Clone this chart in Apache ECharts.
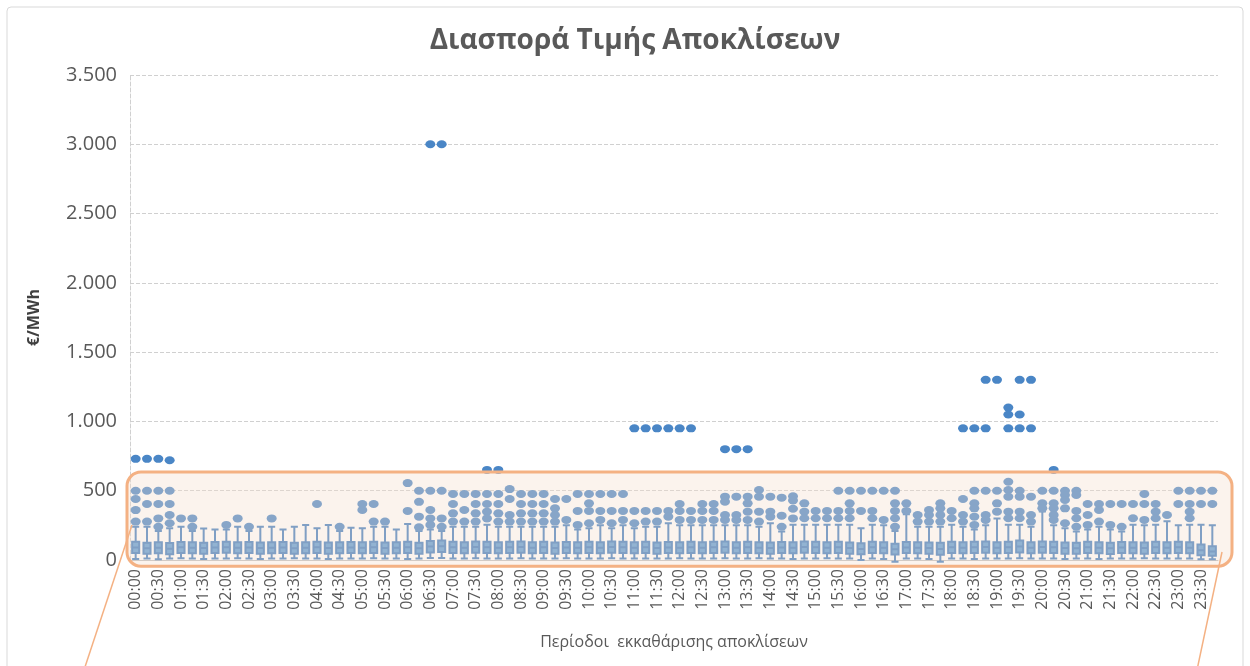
<!DOCTYPE html>
<html>
<head>
<meta charset="utf-8">
<script src="https://cdn.jsdelivr.net/npm/echarts@6/dist/echarts.min.js"></script>
<style>
  html, body { margin: 0; padding: 0; background: #fff; }
  #chart { width: 1250px; height: 666px; }
</style>
</head>
<body>
<div id="chart"></div>
<script>
// 15-minute settlement periods
const periods = [
  "00:00","00:15","00:30","00:45","01:00","01:15","01:30","01:45","02:00","02:15","02:30","02:45",
  "03:00","03:15","03:30","03:45","04:00","04:15","04:30","04:45","05:00","05:15","05:30","05:45",
  "06:00","06:15","06:30","06:45","07:00","07:15","07:30","07:45","08:00","08:15","08:30","08:45",
  "09:00","09:15","09:30","09:45","10:00","10:15","10:30","10:45","11:00","11:15","11:30","11:45",
  "12:00","12:15","12:30","12:45","13:00","13:15","13:30","13:45","14:00","14:15","14:30","14:45",
  "15:00","15:15","15:30","15:45","16:00","16:15","16:30","16:45","17:00","17:15","17:30","17:45",
  "18:00","18:15","18:30","18:45","19:00","19:15","19:30","19:45","20:00","20:15","20:30","20:45",
  "21:00","21:15","21:30","21:45","22:00","22:15","22:30","22:45","23:00","23:15","23:30","23:45"
];

// box statistics (€/MWh)
const boxMin = [
  8,10,5,10,12,10,8,10,10,12, 10,8,10,10,12,10,10,8,10,10,
  10,12,10,10,8,10,15,15,10,10, 12,10,10,10,12,10,10,10,12,10,
  10,10,12,10,10,10,10,10,12,10, 10,10,12,10,10,12,10,10,8,10,
  10,12,10,10,0,10,8,-12,10,10, 8,-12,10,10,8,10,10,10,12,10,
  10,10,8,10,10,8,10,10,10,12, 10,10,10,10,5,5
];
const boxQ1 = [
  50,45,48,42,50,48,45,50,52,48, 50,46,48,50,45,48,50,46,48,50,
  48,50,46,48,50,45,55,58,50,48, 52,50,48,50,52,48,50,46,50,48,
  50,48,52,50,48,50,46,50,48,50, 48,50,52,48,50,48,46,50,48,52,
  50,48,50,46,42,50,48,40,50,48, 46,38,50,48,50,52,48,50,55,48,
  52,50,46,45,50,48,44,50,48,46, 50,48,50,48,35,30
];
const boxMed = [
  90,85,88,82,92,88,86,90,92,88, 90,86,88,90,85,88,92,86,88,90,
  88,92,86,88,92,85,98,100,92,88, 94,92,88,92,94,88,92,86,90,88,
  92,88,94,92,88,92,86,90,88,92, 88,92,94,88,92,88,86,90,88,94,
  92,88,92,86,80,92,88,78,90,88, 86,80,92,88,92,94,88,92,98,88,
  94,92,86,85,92,88,84,90,88,86, 92,88,92,88,70,62
];
const boxQ3 = [
  132,125,128,122,130,128,125,130,132,128, 130,126,128,130,125,128,132,126,128,130,
  128,132,126,128,132,125,138,140,132,128, 134,132,128,132,134,128,132,126,130,128,
  132,128,134,132,128,132,126,130,128,132, 128,132,134,128,132,128,126,130,128,134,
  132,128,132,126,120,132,128,118,130,128, 126,125,132,128,132,134,128,132,140,128,
  134,132,126,125,132,128,124,130,128,126, 132,128,132,128,112,100
];
const boxMax = [
  240,240,210,230,240,210,228,220,220,240, 210,240,240,220,240,253,230,253,210,232,
  230,240,240,220,260,210,220,210,240,240, 240,255,240,240,240,240,240,240,250,220,
  230,250,230,250,230,240,240,265,250,250, 250,250,250,250,250,240,265,205,255,255,
  255,255,255,255,230,255,250,210,330,240, 240,240,255,240,220,250,300,255,255,240,
  350,250,230,205,220,240,220,205,255,250, 255,280,250,255,255,250
];

// outliers: [period index, value]
const outliers = [
  [0,730],[0,500],[0,440],[0,360],[0,277],
  [1,730],[1,500],[1,404],[1,277],
  [2,730],[2,500],[2,404],[2,300],[2,240],
  [3,720],[3,500],[3,404],[3,325],[3,265],
  [4,300],[5,300],[5,240],[8,253],[9,300],[10,240],[12,300],[16,404],[18,240],
  [20,404],[20,361],[21,404],[21,277],[22,277],
  [24,555],[24,354],
  [25,500],[25,420],[25,313],[25,236],
  [26,3000],[26,500],[26,361],[26,300],[26,253],
  [27,3000],[27,500],[27,300],[27,240],
  [28,476],[28,404],[28,337],[28,277],
  [29,476],[29,361],[29,277],
  [30,476],[30,404],[30,337],[30,277],
  [31,650],[31,476],[31,404],[31,349],[31,300],
  [32,650],[32,476],[32,404],[32,337],[32,277],
  [33,512],[33,440],[33,325],[33,277],
  [34,476],[34,404],[34,337],[34,277],
  [35,476],[35,404],[35,337],[35,277],
  [36,476],[36,404],[36,337],[36,277],
  [37,440],[37,373],[37,325],[37,277],
  [38,440],[38,289],
  [39,476],[39,354],[39,253],
  [40,476],[40,409],[40,354],[40,265],
  [41,476],[41,354],[41,289],
  [42,476],[42,354],[42,265],
  [43,476],[43,354],[43,289],
  [44,950],[44,354],[44,265],
  [45,950],[45,354],[45,277],
  [46,950],[46,354],[46,277],
  [47,950],[47,354],[47,313],
  [48,950],[48,404],[48,354],[48,289],
  [49,950],[49,354],[49,289],
  [50,404],[50,354],[50,289],
  [51,404],[51,354],[51,289],
  [52,800],[52,457],[52,421],[52,325],[52,289],
  [53,800],[53,457],[53,325],[53,289],
  [54,800],[54,457],[54,409],[54,349],[54,289],
  [55,505],[55,457],[55,349],[55,277],
  [56,457],[56,349],[56,313],
  [57,450],[57,320],[57,240],
  [58,460],[58,430],[58,370],[58,300],
  [59,409],[59,349],[59,301],
  [60,354],[60,301],[61,354],[61,301],
  [62,500],[62,354],[62,301],
  [63,500],[63,409],[63,354],[63,301],
  [64,500],[64,354],
  [65,500],[65,354],[65,301],
  [66,500],[66,289],
  [67,500],[67,409],[67,354],[67,301],[67,240],
  [68,409],[68,354],
  [69,325],[69,277],
  [70,361],[70,325],[70,277],
  [71,409],[71,373],[71,325],[71,277],
  [72,354],[72,301],
  [73,950],[73,440],[73,325],[73,277],
  [74,950],[74,500],[74,409],[74,373],[74,313],[74,253],
  [75,1300],[75,950],[75,500],[75,325],[75,289],
  [76,1300],[76,500],[76,409],[76,349],
  [77,1100],[77,1050],[77,950],[77,565],[77,505],[77,457],[77,349],[77,301],
  [78,1300],[78,1050],[78,950],[78,500],[78,457],[78,349],[78,301],
  [79,1300],[79,950],[79,457],[79,325],[79,277],
  [80,500],[80,409],[80,373],
  [81,650],[81,500],[81,409],[81,373],[81,325],[81,289],
  [82,500],[82,469],[82,433],[82,373],[82,265],
  [83,500],[83,469],[83,354],[83,301],[83,240],
  [84,404],[84,325],[84,253],
  [85,404],[85,361],[85,277],
  [86,404],[86,253],
  [87,404],[87,240],
  [88,404],[88,301],
  [89,476],[89,404],[89,289],
  [90,404],[90,349],[90,301],
  [91,325],
  [92,500],[92,404],
  [93,500],[93,404],[93,349],[93,301],
  [94,500],[94,404],
  [95,500],[95,404]
];

const textGrey = "#595959";
const fontName = "Open Sans";

const chart = echarts.init(document.getElementById("chart"));

const boxData = periods.map((p, i) => [boxMin[i], boxQ1[i], boxMed[i], boxQ3[i], boxMax[i]]);

const option = {
  animation: false,
  backgroundColor: "#fff",
  title: {
    text: "Διασπορά Τιμής Αποκλίσεων",
    left: 630,
    textAlign: "center",
    top: 22,
    textStyle: { fontFamily: fontName, fontSize: 28, fontWeight: "bold", color: textGrey }
  },
  grid: { left: 130, right: 32, top: 75, bottom: 106 },
  xAxis: {
    type: "category",
    data: periods,
    boundaryGap: true,
    name: "Περίοδοι  εκκαθάρισης αποκλίσεων",
    nameLocation: "middle",
    nameGap: 74,
    nameTextStyle: { fontFamily: fontName, fontSize: 16, color: textGrey },
    axisLine: { lineStyle: { color: "#bfbfbf" } },
    axisTick: { show: false },
    axisLabel: {
      interval: 1,
      rotate: 90,
      fontFamily: fontName,
      fontSize: 16,
      color: textGrey,
      margin: 9
    }
  },
  yAxis: {
    type: "value",
    min: 0,
    max: 3500,
    interval: 500,
    name: "€/MWh",
    nameLocation: "middle",
    nameRotate: 90,
    nameGap: 88,
    nameTextStyle: { fontFamily: fontName, fontSize: 16, fontWeight: "bold", color: "#404040" },
    axisLine: { show: true, lineStyle: { color: "#d0d0d0", type: "dashed" } },
    axisTick: { show: false },
    splitLine: { lineStyle: { color: "#d0d0d0", type: "dashed" } },
    axisLabel: {
      fontFamily: fontName,
      fontSize: 20,
      color: textGrey,
      margin: 13,
      formatter: v => String(v).replace(/\B(?=(\d{3})+(?!\d))/g, ".")
    }
  },
  series: [
    {
      type: "boxplot",
      data: boxData,
      boxWidth: [7, 8],
      itemStyle: { color: "#5b9bd5", borderColor: "#3f7cbf", borderWidth: 2 }
    },
    {
      type: "scatter",
      data: outliers.map(o => [o[0], o[1]]),
      symbol: "circle",
      symbolSize: [10, 8],
      itemStyle: { color: "#4a86c6", opacity: 1 }
    }
  ]
};

chart.setOption(option);

// orange highlight callout over the 0-600 band
const yTop = chart.convertToPixel({ yAxisIndex: 0 }, 635);
const yBottom = chart.convertToPixel({ yAxisIndex: 0 }, -45);
chart.setOption({
  graphic: [
    {
      type: "rect",
      z: -10,
      silent: true,
      shape: { x: 7, y: 7, width: 1236, height: 700, r: 4 },
      style: { fill: "none", stroke: "#d9d9d9", lineWidth: 1 }
    },
    {
      type: "rect",
      z: 100,
      silent: true,
      shape: { x: 127, y: yTop, width: 1105, height: yBottom - yTop, r: 14 },
      style: { fill: "rgba(244,222,205,0.36)", stroke: "#f4b183", lineWidth: 3 }
    },
    {
      type: "line",
      z: 100,
      silent: true,
      shape: { x1: 132, y1: 525, x2: 84, y2: 670 },
      style: { stroke: "#f4b183", lineWidth: 1.5 }
    },
    {
      type: "line",
      z: 100,
      silent: true,
      shape: { x1: 1222, y1: 552, x2: 1197, y2: 670 },
      style: { stroke: "#f4b183", lineWidth: 1.5 }
    }
  ]
});
</script>
</body>
</html>
